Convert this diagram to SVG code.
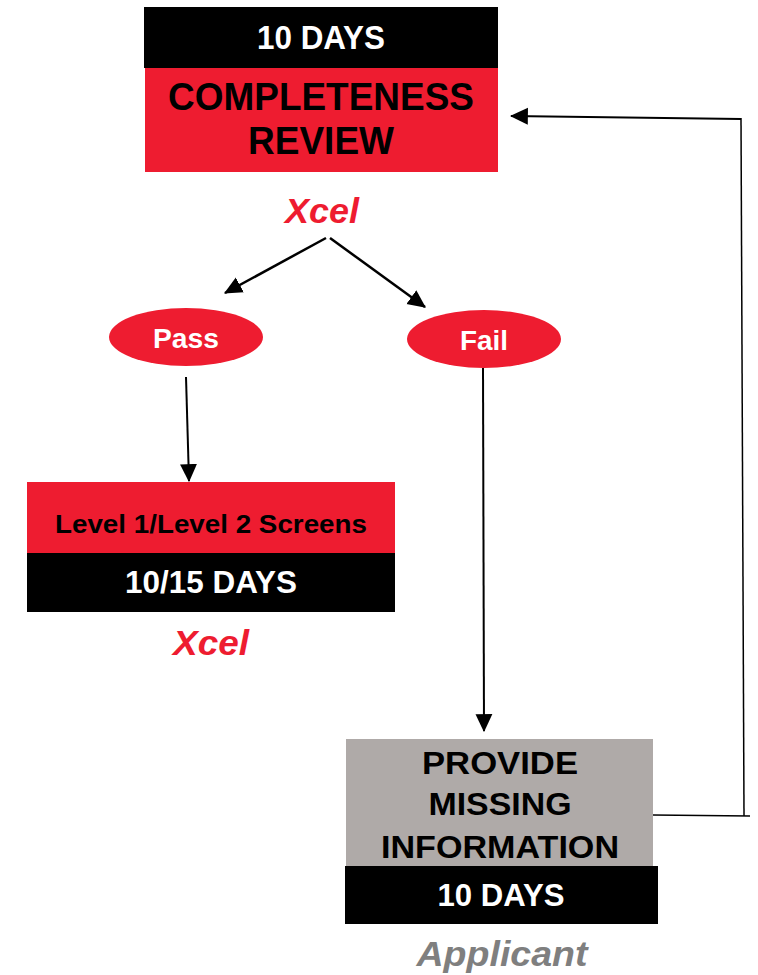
<svg xmlns="http://www.w3.org/2000/svg" width="758" height="975" viewBox="0 0 758 975">
<style>
  .t { font-family: "Liberation Sans", Arial, sans-serif; font-weight: bold; text-anchor: middle; }
  .w { fill: #ffffff; }
  .k { fill: #000000; }
  .r { fill: #EE1C30; }
  .g { fill: #7F7F7F; }
  .i { font-style: italic; }
  .ln { stroke: #000000; fill: none; }
</style>
<defs>
  <marker id="ah" markerUnits="userSpaceOnUse" markerWidth="18" markerHeight="18" viewBox="0 0 16 15" refX="15" refY="7.5" orient="auto">
    <path d="M0,0 L16,7.5 L0,15 z" fill="#000000"/>
  </marker>
</defs>
<rect width="758" height="975" fill="#ffffff"/>

<g id="completeness-review">
  <rect x="144" y="7" width="354" height="61" fill="#000000"/>
  <rect x="145" y="68" width="353" height="104" fill="#EE1C30"/>
  <text class="t w" x="321" y="49" font-size="33" textLength="128" lengthAdjust="spacingAndGlyphs">10 DAYS</text>
  <text class="t k" x="321" y="110" font-size="39" textLength="306" lengthAdjust="spacingAndGlyphs">COMPLETENESS</text>
  <text class="t k" x="321" y="154" font-size="39" textLength="146" lengthAdjust="spacingAndGlyphs">REVIEW</text>
  <text class="t r i" x="322" y="223" font-size="35" textLength="74" lengthAdjust="spacingAndGlyphs">Xcel</text>
</g>

<g id="pass">
  <ellipse cx="186" cy="337" rx="77" ry="29" fill="#EE1C30"/>
  <text class="t w" x="186" y="348" font-size="28" textLength="66" lengthAdjust="spacingAndGlyphs">Pass</text>
</g>

<g id="fail">
  <ellipse cx="484" cy="339" rx="77" ry="29" fill="#EE1C30"/>
  <text class="t w" x="484" y="350" font-size="28" textLength="48" lengthAdjust="spacingAndGlyphs">Fail</text>
</g>

<g id="screens">
  <rect x="27" y="482" width="368" height="71" fill="#EE1C30"/>
  <rect x="27" y="553" width="368" height="59" fill="#000000"/>
  <text class="t k" x="211" y="533" font-size="25" textLength="312" lengthAdjust="spacingAndGlyphs">Level 1/Level 2 Screens</text>
  <text class="t w" x="211" y="593" font-size="31" textLength="172" lengthAdjust="spacingAndGlyphs">10/15 DAYS</text>
  <text class="t r i" x="211" y="655" font-size="35" textLength="76" lengthAdjust="spacingAndGlyphs">Xcel</text>
</g>

<g id="provide-missing">
  <rect x="346" y="739" width="307" height="127" fill="#AFAAA8"/>
  <rect x="345" y="866" width="313" height="58" fill="#000000"/>
  <text class="t k" x="500" y="774" font-size="32" textLength="156" lengthAdjust="spacingAndGlyphs">PROVIDE</text>
  <text class="t k" x="500" y="815" font-size="32" textLength="143" lengthAdjust="spacingAndGlyphs">MISSING</text>
  <text class="t k" x="500" y="858" font-size="32" textLength="238" lengthAdjust="spacingAndGlyphs">INFORMATION</text>
  <text class="t w" x="501" y="906" font-size="31" textLength="127" lengthAdjust="spacingAndGlyphs">10 DAYS</text>
  <text class="t g i" x="502" y="966" font-size="35" textLength="171" lengthAdjust="spacingAndGlyphs">Applicant</text>
</g>

<g id="connectors">
  <line class="ln" x1="326" y1="238" x2="225" y2="293" stroke-width="2.5" marker-end="url(#ah)"/>
  <line class="ln" x1="330" y1="238" x2="425" y2="307" stroke-width="2.5" marker-end="url(#ah)"/>
  <line class="ln" x1="186" y1="377" x2="189" y2="481" stroke-width="2" marker-end="url(#ah)"/>
  <line class="ln" x1="483" y1="368" x2="484" y2="731" stroke-width="2" marker-end="url(#ah)"/>
  <polyline class="ln" points="653,815 750,816" stroke-width="1.5"/>
  <polyline class="ln" points="744,816 741,118" stroke-width="1.5"/>
  <line class="ln" x1="741" y1="119" x2="511" y2="116" stroke-width="2.2" marker-end="url(#ah)"/>
</g>
</svg>
